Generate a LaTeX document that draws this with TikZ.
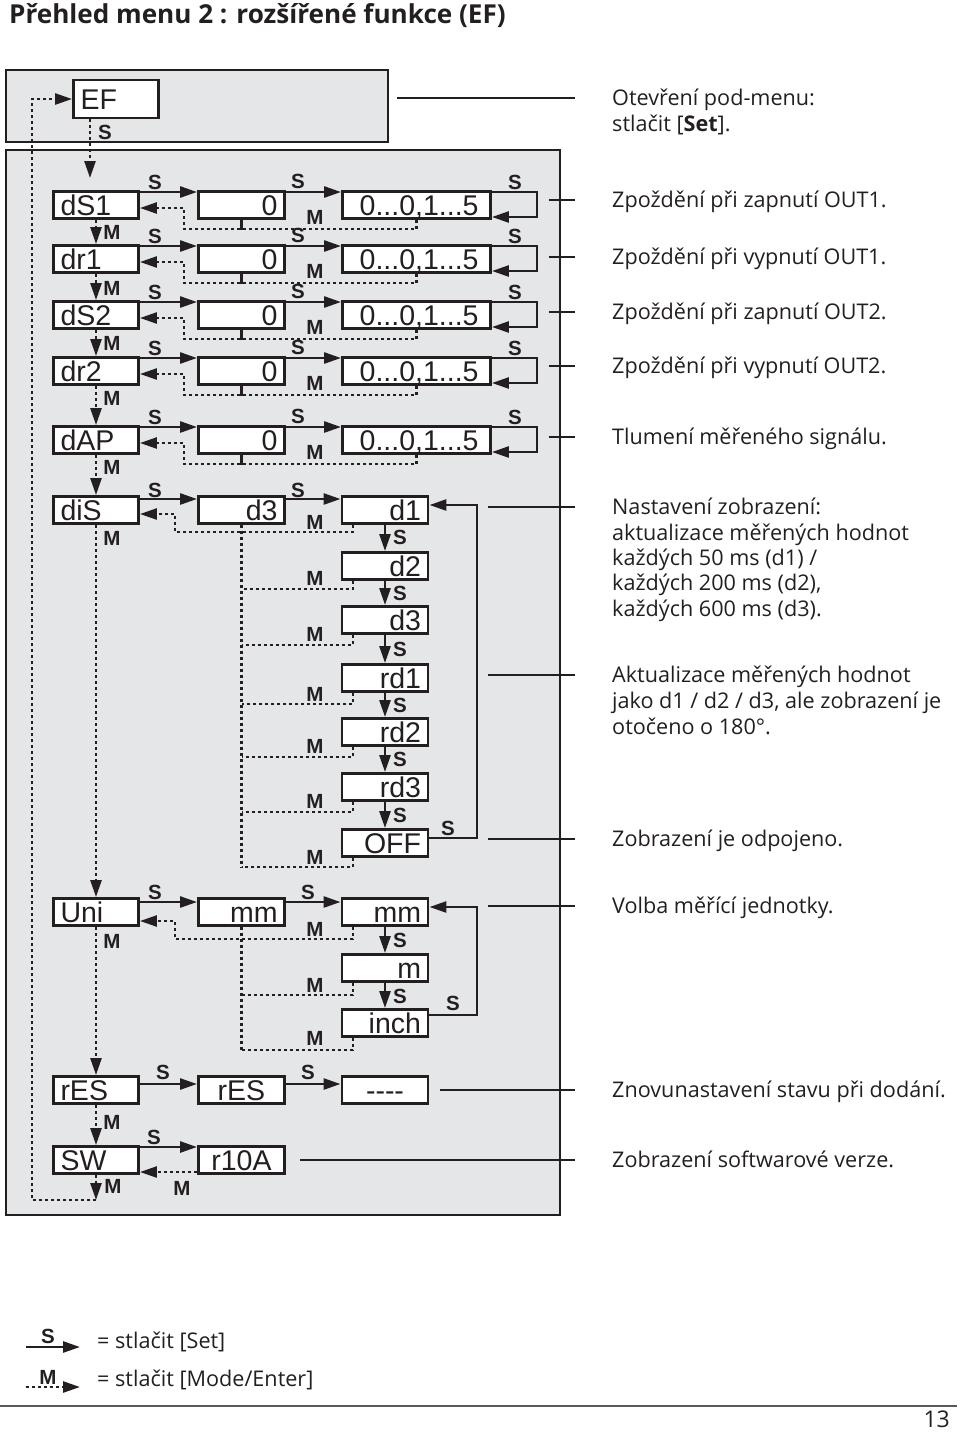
\documentclass[tikz,border=0pt]{standalone}
\usepackage{fontspec}
\setmainfont{Liberation Sans}
\newfontfamily\descfont{Open Sans}
\usetikzlibrary{arrows.meta}
\definecolor{ink}{HTML}{231F20}
\definecolor{panelgrey}{HTML}{E5E6E8}
\definecolor{rulegrey}{HTML}{58595B}
\tikzset{
 disp/.style={draw=ink, line width=2.9pt, fill=white, minimum height=27pt, inner ysep=0pt, text height=20pt, text depth=0pt, font=\fontsize{28.5}{30}\selectfont, text=ink},
 lbox/.style={disp, text width=71pt, inner xsep=7pt, align=left},
 rbox/.style={disp, text width=72pt, inner xsep=7pt, align=right},
 cbox/.style={disp, text width=72pt, inner xsep=7pt, align=center},
 wbox/.style={disp, text width=124pt, inner xsep=12pt, align=right},
 lbl/.style={font=\fontsize{20.5}{21}\selectfont\bfseries, text=ink, inner sep=0pt},
 sline/.style={draw=ink, line width=2.6pt},
 sarr/.style={sline, -{Triangle[length=17pt,width=11pt]}},
 mline/.style={draw=ink, line width=2.5pt, dash pattern=on 3pt off 3pt},
 marr/.style={mline, -{Triangle[length=17pt,width=11pt]}},
 tickline/.style={draw=ink, line width=2.6pt},
 desc/.style={font=\descfont\fontsize{21.6}{25}\selectfont, text=ink, anchor=base west, inner sep=0pt},
 panel/.style={draw=ink, line width=2.5pt, fill=panelgrey},
}
\newcommand\stdrow[3]{%
 \node[lbox] (#1a) at (96,#3) {#2};
 \node[rbox] (#1b) at (241.5,#3) {0};
 \node[wbox] (#1c) at (416.5,#3) {0...0,1...5};
 \draw[sarr] ([yshift=13pt]#1a.east) -- ([yshift=13pt]#1b.west);
 \draw[sarr] ([yshift=13pt]#1b.east) -- ([yshift=13pt]#1c.west);
 \draw[sarr] ([yshift=13pt]#1c.east) -- ++(45,0) -- ++(0,25) -- ([yshift=-12pt]#1c.east);
 \draw[sline] (#1b.south) -- ++(0,10.5);
 \draw[marr] (#1c.south) |- (184,#3+24) -- (184,#3+3) -- ([yshift=-3pt]#1a.east);
 \node[lbl] (#1-ls) at (155,#3-23) {S};
 \node[lbl] (#1-lt) at (298,#3-24) {S};
 \node[lbl] (#1-lu) at (515,#3-23) {S};
 \node[lbl] (#1-lm) at (315,#3+12) {M};
}
\newcommand\tickto[2]{\draw[tickline] ([shift={(-37pt,7pt)}]#1.base west) -- ++(-#2,0);}
\newcommand\subret[3]{% #1 node, #2 y of return level, #3 label y
 \draw[mline] ([xshift=-32pt]#1.south) |- (241.5,#2);
 \node[lbl] (#1-lm) at (315,#3) {M};
}
\begin{document}
\begin{tikzpicture}[x=1pt,y=-1pt]
\useasboundingbox (0,0) rectangle (960,1436);
\node[font=\descfont\bfseries\fontsize{26.1}{28}\selectfont, text=ink, anchor=base west, inner sep=0pt] (title) at (9,23) {Přehled menu 2 : rozšířené funkce (EF)};
\draw[panel] (6,70) rectangle (388,142);
\draw[panel] (6,150) rectangle (560,1215);
% EF
\node[disp, minimum width=85pt, minimum height=38pt, text width=71pt, inner xsep=7pt, align=left] (ef) at (116,99) {EF};
\node[lbl] (efs) at (105,132) {S};
\coordinate (efdown) at (90,178);
\draw[marr] ([xshift=-26pt]ef.south) -- (efdown);
% standard rows
\stdrow{dsa}{dS1}{205}
\stdrow{dra}{dr1}{259}
\stdrow{dsb}{dS2}{315}
\stdrow{drb}{dr2}{371}
\stdrow{dap}{dAP}{440}
% diS
\node[lbox] (dis) at (96,510) {diS};
\node[rbox] (disb) at (241.5,510) {d3};
\node[rbox] (d1) at (385,510) {d1};
\node[rbox] (d2) at (385,566) {d2};
\node[rbox] (d3) at (385,620) {d3};
\node[rbox] (rd1) at (385,678) {rd1};
\node[rbox] (rd2) at (385,732) {rd2};
\node[rbox] (rd3) at (385,787) {rd3};
\node[rbox] (off) at (385,843) {OFF};
% Uni
\node[lbox] (uni) at (96,912) {Uni};
\node[rbox] (unib) at (241.5,912) {mm};
\node[rbox] (umm) at (385,912) {mm};
\node[rbox] (um) at (385,968) {m};
\node[rbox] (uinch) at (385,1023) {inch};
% rES, SW
\node[lbox] (res) at (96,1090) {rES};
\node[cbox] (resb) at (241.5,1090) {rES};
\node[cbox] (dash) at (385,1090) {-{}-{}-{}-};
\node[lbox] (sw) at (96,1160) {SW};
\node[cbox] (r10a) at (241.5,1160) {r10A};
% column 1 M arrows
\draw[marr] (dsaa.south) -- (draa.north); \node[lbl] (m1) at (112,232) {M};
\draw[marr] (draa.south) -- (dsba.north); \node[lbl] (m2) at (112,288) {M};
\draw[marr] (dsba.south) -- (drba.north); \node[lbl] (m3) at (112,343) {M};
\draw[marr] (drba.south) -- (dapa.north); \node[lbl] (m4) at (112,398) {M};
\draw[marr] (dapa.south) -- (dis.north); \node[lbl] (m5) at (112,467) {M};
\draw[marr] (dis.south) -- (uni.north); \node[lbl] (m6) at (112,538) {M};
\draw[marr] (uni.south) -- (res.north); \node[lbl] (m7) at (112,941) {M};
\draw[marr] (res.south) -- (sw.north); \node[lbl] (m8) at (112,1122) {M};
\coordinate (swend) at (96,1200);
\draw[marr] (sw.south) -- (swend); \node[lbl] (m9) at (113,1186) {M};
\draw[marr] (swend) -- (32,1200) -- (32,99) -- (ef.west);
% diS connections
\draw[sarr] ([yshift=11pt]dis.east) -- ([yshift=11pt]disb.west); \node[lbl] (diss) at (155,490) {S};
\draw[sarr] ([yshift=11pt]disb.east) -- ([yshift=11pt]d1.west); \node[lbl] (dist) at (298,490) {S};
\draw[marr] ([xshift=-32pt]d1.south) |- (175,532) -- (175,514) -- ([yshift=-4pt]dis.east);
\node[lbl] (d1m) at (315,522) {M};
\draw[mline] (disb.south) -- (241.5,867);
\subret{d2}{589}{578}
\subret{d3}{645}{634}
\subret{rd1}{704}{694}
\subret{rd2}{757}{746}
\subret{rd3}{812}{801}
\subret{off}{867}{857}
\draw[sarr] (d1.south) -- (d2.north); \node[lbl] (s1) at (400,537) {S};
\draw[sarr] (d2.south) -- (d3.north); \node[lbl] (s2) at (400,593) {S};
\draw[sarr] (d3.south) -- (rd1.north); \node[lbl] (s3) at (400,649) {S};
\draw[sarr] (rd1.south) -- (rd2.north); \node[lbl] (s4) at (400,705) {S};
\draw[sarr] (rd2.south) -- (rd3.north); \node[lbl] (s5) at (400,759) {S};
\draw[sarr] (rd3.south) -- (off.north); \node[lbl] (s6) at (400,815) {S};
\draw[sarr] ([yshift=5pt]off.east) -- (477,838) -- (477,505) -- ([yshift=5pt]d1.east);
\node[lbl] (offs) at (448,828) {S};
% Uni connections
\draw[sarr] ([yshift=10pt]uni.east) -- ([yshift=10pt]unib.west); \node[lbl] (unis) at (155,892) {S};
\draw[sarr] ([yshift=10pt]unib.east) -- ([yshift=10pt]umm.west); \node[lbl] (unit) at (308,892) {S};
\draw[marr] ([xshift=-32pt]umm.south) |- (175,939) -- (175,921) -- ([yshift=-9pt]uni.east);
\node[lbl] (ummm) at (315,929) {M};
\draw[mline] (unib.south) -- (241.5,1050);
\subret{um}{995}{985}
\subret{uinch}{1050}{1038}
\draw[sarr] (umm.south) -- (um.north); \node[lbl] (s7) at (400,940) {S};
\draw[sarr] (um.south) -- (uinch.north); \node[lbl] (s8) at (400,996) {S};
\draw[sarr] ([yshift=8pt]uinch.east) -- (477,1015) -- (477,907) -- ([yshift=5pt]umm.east);
\node[lbl] (inchs) at (453,1003) {S};
% rES / SW connections
\draw[sarr] ([yshift=6pt]res.east) -- ([yshift=6pt]resb.west); \node[lbl] (ress) at (163,1072) {S};
\draw[sarr] ([yshift=6pt]resb.east) -- ([yshift=6pt]dash.west); \node[lbl] (rest) at (308,1072) {S};
\draw[sarr] ([yshift=13pt]sw.east) -- ([yshift=13pt]r10a.west); \node[lbl] (sws) at (154,1137) {S};
\draw[marr] ([yshift=-12pt]r10a.west) -- ([yshift=-12pt]sw.east); \node[lbl] (swm) at (182,1188) {M};
% descriptions
\node[desc] (t0a) at (612,105) {Otevření pod-menu:};
\node[desc] (t0b) at (612,131) {stlačit [\textbf{Set}].};
\node[desc] (t1) at (612,207) {Zpoždění při zapnutí OUT1.};
\node[desc] (t2) at (612,264) {Zpoždění při vypnutí OUT1.};
\node[desc] (t3) at (612,319) {Zpoždění při zapnutí OUT2.};
\node[desc] (t4) at (612,373) {Zpoždění při vypnutí OUT2.};
\node[desc] (t5) at (612,444) {Tlumení měřeného signálu.};
\node[desc] (t6a) at (612,514) {Nastavení zobrazení:};
\node[desc] (t6b) at (612,540) {aktualizace měřených hodnot};
\node[desc] (t6c) at (612,565) {každých 50 ms (d1) /};
\node[desc] (t6d) at (612,590) {každých 200 ms (d2),};
\node[desc] (t6e) at (612,616) {každých 600 ms (d3).};
\node[desc] (t7a) at (612,682) {Aktualizace měřených hodnot};
\node[desc] (t7b) at (612,708) {jako d1 / d2 / d3, ale zobrazení je};
\node[desc] (t7c) at (612,734) {otočeno o 180°.};
\node[desc] (t8) at (612,846) {Zobrazení je odpojeno.};
\node[desc] (t9) at (612,913) {Volba měřící jednotky.};
\node[desc] (t10) at (612,1097) {Znovunastavení stavu při dodání.};
\node[desc] (t11) at (612,1167) {Zobrazení softwarové verze.};
\tickto{t0a}{178}
\tickto{t1}{26}
\tickto{t2}{26}
\tickto{t3}{26}
\tickto{t4}{26}
\tickto{t5}{26}
\tickto{t6a}{87}
\tickto{t7a}{87}
\tickto{t8}{87}
\tickto{t9}{87}
\tickto{t10}{135}
\tickto{t11}{275}
% legend
\coordinate (lsa) at (26,1347); \coordinate (lsb) at (80,1347);
\draw[sarr] (lsa) -- (lsb);
\node[lbl] (lss) at (48,1336) {S};
\coordinate (lma) at (26,1387); \coordinate (lmb) at (80,1387);
\draw[marr] (lma) -- (lmb);
\node[lbl] (lmm) at (48,1377) {M};
\node[desc] (leg1) at (97,1348) {= stlačit [Set]};
\node[desc] (leg2) at (97,1386) {= stlačit [Mode/Enter]};
\draw[draw=rulegrey, line width=2pt] (0,1406) -- (957,1406);
\node[font=\descfont\fontsize{23}{24}\selectfont, text=ink, anchor=base east, inner sep=0pt] (pg) at (950,1427) {13};
\end{tikzpicture}
\end{document}
